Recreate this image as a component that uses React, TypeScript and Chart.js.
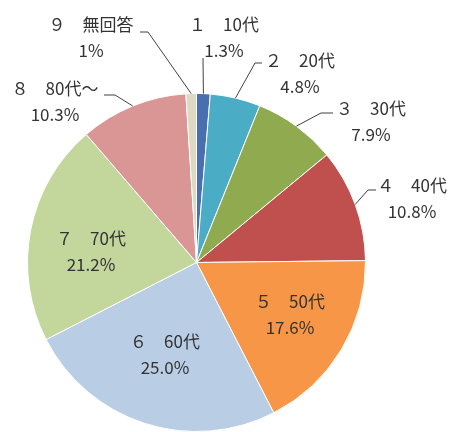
import React, { useEffect, useRef } from "react";
import { Chart, registerables } from "chart.js";

Chart.register(...registerables);

// 年代別の回答割合（％）
const categories = ["１　10代", "２　20代", "３　30代", "４　40代", "５　50代", "６　60代", "７　70代", "８　80代～", "９　無回答"];
const values = [1.3, 4.8, 7.9, 10.8, 17.6, 25.0, 21.2, 10.3, 1];
const percentText = ["1.3%", "4.8%", "7.9%", "10.8%", "17.6%", "25.0%", "21.2%", "10.3%", "1%"];
const sliceColors = ["#4A6FB0", "#4BACC6", "#8FAA4F", "#C0504D", "#F79646", "#B9CDE5", "#C3D69B", "#D99694", "#DDD9C3"];

// Label layout: text centre (x, y) and optional leader points running from the text toward the slice edge
type LabelStyle = { x: number; y: number; leader?: [number, number][] };
const labelStyles: LabelStyle[] = [
  { x: 224, y: 38, leader: [[203, 58]] },
  { x: 300, y: 74, leader: [[262, 63], [255, 63]] },
  { x: 371, y: 122, leader: [[333, 113], [321, 113]] },
  { x: 412, y: 199, leader: [[376, 190], [368, 190]] },
  { x: 290, y: 315 },
  { x: 165, y: 355 },
  { x: 91, y: 252 },
  { x: 55, y: 102, leader: [[104, 95], [115, 95]] },
  { x: 91, y: 38, leader: [[140, 32], [148, 32]] },
];

const labelPlugin = {
  id: "sliceLabels",
  afterDraw(chart: any) {
    const ctx = chart.ctx as CanvasRenderingContext2D;
    const meta = chart.getDatasetMeta(0);
    ctx.save();
    meta.data.forEach((arc: any, i: number) => {
      const st = labelStyles[i];
      const { x, y, startAngle, endAngle, outerRadius } = arc.getProps(
        ["x", "y", "startAngle", "endAngle", "outerRadius"],
        true
      );
      if (st.leader) {
        const mid = (startAngle + endAngle) / 2;
        const ex = x + Math.cos(mid) * outerRadius;
        const ey = y + Math.sin(mid) * outerRadius;
        ctx.beginPath();
        ctx.strokeStyle = "#404040";
        ctx.lineWidth = 1;
        st.leader.forEach(([px, py], k) => (k === 0 ? ctx.moveTo(px, py) : ctx.lineTo(px, py)));
        ctx.lineTo(ex, ey);
        ctx.stroke();
      }
      ctx.fillStyle = "#333333";
      ctx.font = '17px "Noto Sans CJK JP", "Noto Sans", sans-serif';
      ctx.textAlign = "center";
      ctx.textBaseline = "middle";
      ctx.fillText(categories[i], st.x, st.y - 13);
      ctx.fillText(percentText[i], st.x, st.y + 13);
    });
    ctx.restore();
  },
};

export default function App() {
  const canvasRef = useRef<HTMLCanvasElement | null>(null);

  useEffect(() => {
    const canvas = canvasRef.current;
    if (!canvas) return;
    const chart = new Chart(canvas, {
      type: "pie",
      data: {
        labels: categories,
        datasets: [
          {
            data: values,
            backgroundColor: sliceColors,
            borderColor: "#ffffff",
            borderWidth: 1,
          },
        ],
      },
      options: {
        responsive: false,
        animation: false,
        layout: { padding: { left: 27, right: 85, top: 93, bottom: 0 } },
        plugins: {
          legend: { display: false },
          tooltip: { enabled: false },
          title: { display: false },
        },
      },
      plugins: [labelPlugin],
    });
    return () => chart.destroy();
  }, []);

  return (
    <div style={{ position: "absolute", left: 0, top: 0, width: 451, height: 432, background: "#ffffff", overflow: "hidden" }}>
      <canvas ref={canvasRef} width={451} height={432} style={{ display: "block" }} />
    </div>
  );
}
